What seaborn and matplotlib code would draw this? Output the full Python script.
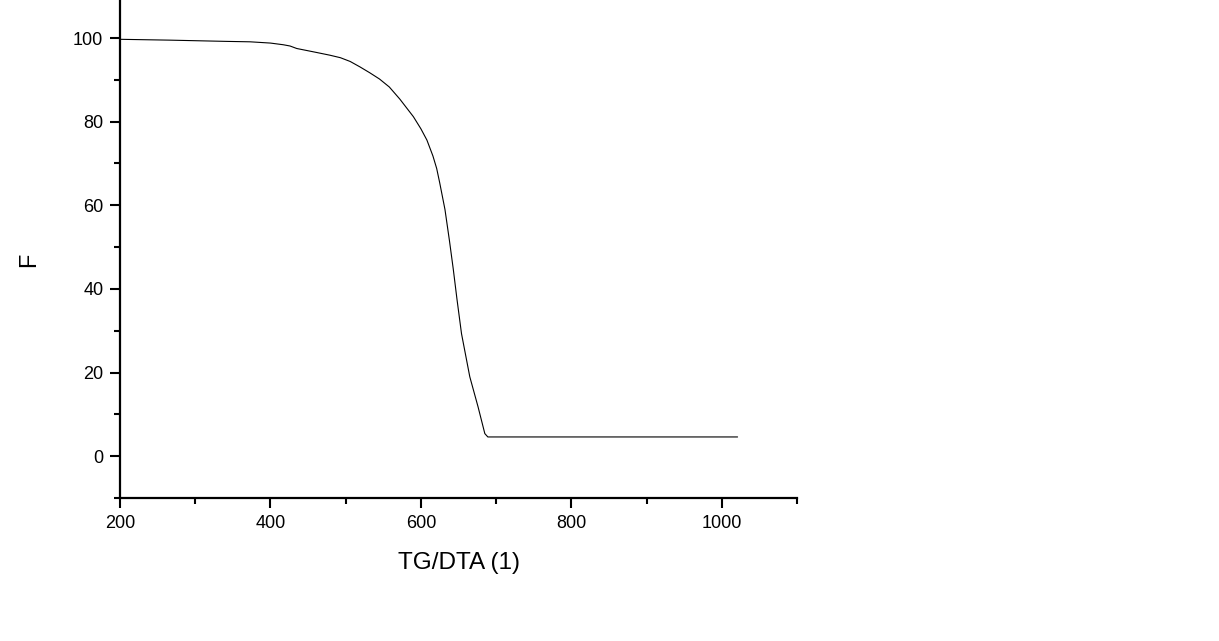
import numpy as np
import pandas as pd
import matplotlib
matplotlib.use("Agg")
import matplotlib.pyplot as plt
from matplotlib.ticker import MultipleLocator
import seaborn as sns

# ======== DATA ========
temperature = [200, 266, 342, 373, 400, 417, 426, 435, 460, 479, 493, 506, 519, 532,
               545, 558, 572, 590, 600, 608, 616, 621, 625, 632, 638, 643, 648, 654,
               665, 676, 685, 689, 1021]
mass = [99.7, 99.5, 99.2, 99.1, 98.8, 98.4, 98.1, 97.5, 96.6, 95.9, 95.3, 94.4, 93.1, 91.7,
        90.2, 88.3, 85.4, 81.2, 78.3, 75.6, 71.8, 68.8, 65.4, 59.0, 51.5, 44.8, 37.5, 29.3,
        19.0, 11.8, 5.4, 4.6, 4.6]

df = pd.DataFrame({"TG/DTA (1)": temperature, "F": mass})

# ======== STYLE ========
sns.set_style("ticks")
plt.rcParams["font.family"] = ["Liberation Sans", "DejaVu Sans"]
plt.rcParams["text.color"] = "black"
plt.rcParams["axes.labelcolor"] = "black"
plt.rcParams["xtick.color"] = "black"
plt.rcParams["ytick.color"] = "black"

fig = plt.figure(figsize=(12.19, 6.41), dpi=100)
ax = fig.add_axes([120 / 1219, 143 / 641, 677 / 1219, 498 / 641])

sns.lineplot(data=df, x="TG/DTA (1)", y="F", color="black", linewidth=0.8, ax=ax)

ax.set_xlim(200, 1100)
ax.set_ylim(-10, 109.1)
ax.xaxis.set_major_locator(MultipleLocator(200))
ax.xaxis.set_minor_locator(MultipleLocator(100))
ax.yaxis.set_major_locator(MultipleLocator(20))
ax.yaxis.set_minor_locator(MultipleLocator(10))

sns.despine(ax=ax)
for side in ["left", "bottom"]:
    ax.spines[side].set_linewidth(1.6)
    ax.spines[side].set_color("black")

ax.tick_params(which="major", length=7, width=1.5, labelsize=13, pad=5)
ax.tick_params(which="minor", length=4.5, width=1.5)
ax.set_xlabel("TG/DTA (1)", fontsize=17.5, labelpad=15)
ax.set_ylabel("F", fontsize=17, labelpad=24)
ax.yaxis.label.set_y(0.478)

fig.savefig("out.png", dpi=100)
